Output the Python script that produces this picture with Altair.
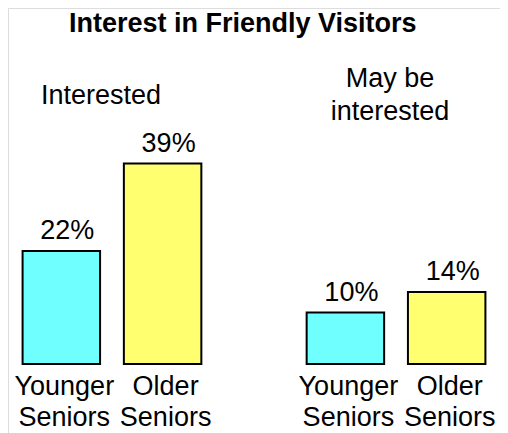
import altair as alt
import pandas as pd

# ---- data ----
groups = ["Interested", "Interested", "May be interested", "May be interested"]
seniors = ["Younger Seniors", "Older Seniors", "Younger Seniors", "Older Seniors"]
values = [22, 39, 10, 14]
value_labels = ["22%", "39%", "10%", "14%"]
axis_labels = ["Younger\nSeniors", "Older\nSeniors", "Younger\nSeniors", "Older\nSeniors"]
group_order = ["Interested", "May be interested"]
group_labels = ["Interested", "May be\ninterested"]
senior_order = ["Younger Seniors", "Older Seniors"]
bar_colors = ["#70FFFF", "#FFFF70"]
title_text = "Interest in Friendly Visitors"

df = pd.DataFrame({
    "group": groups,
    "senior": seniors,
    "value": values,
    "label": value_labels,
    "axislabel": axis_labels,
})
gdf = pd.DataFrame({"group": group_order, "glabel": group_labels})
tdf = pd.DataFrame({"t": [title_text]})

FONT = "Liberation Sans"


def xgroup():
    return alt.X("group:N", sort=group_order, axis=None,
                 scale=alt.Scale(domain=group_order, paddingInner=0.268, paddingOuter=0))


xoff = alt.XOffset("senior:N", sort=senior_order,
                   scale=alt.Scale(domain=senior_order, paddingInner=0.235, paddingOuter=0.144))
yenc = alt.Y("value:Q", axis=None,
             scale=alt.Scale(domain=[0, 69.26], range=[356, 0], nice=False))

base = alt.Chart(df)

bars = base.mark_bar(stroke="black", strokeWidth=2).encode(
    x=xgroup(), xOffset=xoff, y=yenc,
    color=alt.Color("senior:N", scale=alt.Scale(domain=senior_order, range=bar_colors), legend=None),
)

vals = base.mark_text(font=FONT, fontSize=27, baseline="alphabetic", dy=-12, dx=6, color="black").encode(
    x=xgroup(), xOffset=xoff, y=yenc, text="label:N",
)

axl = base.mark_text(font=FONT, fontSize=27, baseline="alphabetic", lineBreak="\n",
                     lineHeight=31, dx=3, color="black").encode(
    x=xgroup(), xOffset=xoff, y=alt.value(387), text="axislabel:N",
)

grp1 = alt.Chart(gdf).transform_filter(alt.datum.group == "Interested").mark_text(
    font=FONT, fontSize=27, baseline="alphabetic", dx=-11, color="black").encode(
    x=xgroup(), y=alt.value(96), text="glabel:N",
)

grp2 = alt.Chart(gdf).transform_filter(alt.datum.group == "May be interested").mark_text(
    font=FONT, fontSize=27, baseline="alphabetic", lineBreak="\n", lineHeight=33,
    dx=-6, color="black").encode(
    x=xgroup(), y=alt.value(79), text="glabel:N",
)

title = alt.Chart(tdf).mark_text(font=FONT, fontSize=27, fontWeight="bold",
                                 baseline="alphabetic", color="black").encode(
    x=alt.value(234.7), y=alt.value(24), text="t:N",
)

chart = alt.layer(bars, vals, axl, grp1, grp2, title).properties(
    width=492, height=425,
    autosize=alt.AutoSizeParams(type="none"),
    padding=0,
).configure_view(stroke=None).configure(background="white")

chart.save("out.html", embed_options={"renderer": "svg", "actions": False})
